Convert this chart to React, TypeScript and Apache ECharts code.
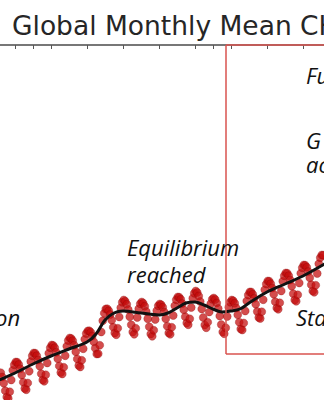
import React, { useEffect, useRef } from "react";
import * as echarts from "echarts";

// Monthly mean CH4 (ppb), starting January 1994
const monthlyStartYear = 1994;
const ch4Monthly = [
  // 1994
  1751.0, 1750.9, 1749.9, 1748.2, 1745.7, 1742.7, 1740.2, 1739.7, 1742.3, 1747.0, 1750.9, 1753.1,
  // 1995
  1754.2, 1754.1, 1753.2, 1751.5, 1749.0, 1746.1, 1743.6, 1743.1, 1745.8, 1750.5, 1754.4, 1756.7,
  // 1996
  1757.8, 1757.7, 1756.7, 1755.0, 1752.5, 1749.5, 1747.0, 1746.5, 1749.1, 1753.8, 1757.7, 1759.9,
  // 1997
  1761.0, 1760.8, 1759.9, 1758.1, 1755.5, 1752.6, 1750.0, 1749.4, 1752.1, 1756.7, 1760.5, 1762.8,
  // 1998
  1763.8, 1763.6, 1762.7, 1760.9, 1758.3, 1755.4, 1752.8, 1752.2, 1754.9, 1759.5, 1763.3, 1765.6,
  // 1999
  1766.6, 1766.7, 1766.1, 1764.6, 1762.3, 1759.7, 1757.4, 1757.5, 1760.9, 1766.2, 1770.7, 1773.7,
  // 2000
  1775.4, 1775.5, 1774.7, 1773.2, 1770.9, 1768.1, 1765.8, 1765.1, 1767.7, 1772.2, 1775.9, 1778.1,
  // 2001
  1779.0, 1778.5, 1777.3, 1775.2, 1772.3, 1769.1, 1766.2, 1765.3, 1767.7, 1772.0, 1775.5, 1777.5,
  // 2002
  1778.2, 1777.7, 1776.5, 1774.4, 1771.5, 1768.3, 1765.4, 1764.5, 1766.9, 1771.2, 1774.7, 1776.7,
  // 2003
  1777.4, 1777.1, 1776.1, 1774.2, 1771.5, 1768.5, 1765.8, 1765.3, 1768.1, 1772.8, 1776.7, 1779.1,
  // 2004
  1780.2, 1780.1, 1779.3, 1777.6, 1775.1, 1772.3, 1769.8, 1769.1, 1771.5, 1776.0, 1779.7, 1781.7,
  // 2005
  1782.6, 1782.0, 1780.6, 1778.4, 1775.4, 1772.0, 1769.0, 1767.9, 1770.1, 1774.2, 1777.5, 1779.3,
  // 2006
  1779.8, 1779.2, 1777.8, 1775.6, 1772.6, 1769.2, 1766.2, 1765.5, 1767.9, 1772.4, 1776.1, 1778.1,
  // 2007
  1779.0, 1778.7, 1777.7, 1775.8, 1773.1, 1770.1, 1767.4, 1767.0, 1769.8, 1774.6, 1778.6, 1781.0,
  // 2008
  1782.2, 1782.2, 1781.3, 1779.7, 1777.3, 1774.4, 1772.0, 1771.6, 1774.3, 1779.1, 1783.1, 1785.4,
  // 2009
  1786.6, 1786.5, 1785.5, 1783.8, 1781.3, 1778.3, 1775.8, 1775.3, 1777.9, 1782.6, 1786.5, 1788.7,
  // 2010
  1789.8, 1789.7, 1788.7, 1787.0, 1784.5, 1781.5, 1779.0, 1778.5, 1781.1, 1785.8, 1789.7, 1791.9,
  // 2011
  1793.0, 1792.9, 1792.1, 1790.4, 1787.9, 1785.1, 1782.6, 1782.1, 1784.9, 1789.6, 1793.5, 1795.9,
  // 2012
  1797.0, 1796.9, 1796.1, 1794.4,
];

// Deseasonalised trend (black curve)
const trendYears = [
  1994, 1995, 1996, 1997, 1998, 1999, 1999.5, 2000, 2000.5, 2001, 2002, 2003, 2003.5,
  2004, 2004.5, 2005, 2005.5, 2006, 2006.5, 2007, 2007.5, 2008, 2009, 2010, 2011, 2012, 2012.5,
];
const trendValues = [
  1746.6, 1749.8, 1753.4, 1756.6, 1759.4, 1762.2, 1765.4, 1771.0, 1773.8, 1774.6, 1773.8, 1773.0, 1773.8,
  1775.8, 1777.8, 1778.2, 1777.0, 1775.4, 1774.2, 1774.6, 1775.4, 1777.8, 1782.2, 1785.4, 1788.6, 1792.6, 1794.6,
];

// Visible year ticks on the top axis
const tickYears = [1995, 1996, 1997, 1999, 2001, 2003, 2005, 2006, 2007, 2009, 2011];

// Visible window
const xMin = 1994 + 1 / 6;
const xMax = 2012 + 1 / 6;
const yMin = 1739;
const yMax = 1881;

// Highlighted period box
const boxStartYear = 2006.72;
const boxBottomValue = 1757.4;

const titleText = "Global Monthly Mean CH₄";
const annotations = ["Fu", "G", "ac", "Equilibrium", "reached", "on", "Sta"];

export default function App() {
  const ref = useRef<HTMLDivElement>(null);

  useEffect(() => {
    document.body.style.margin = "0";
    if (!ref.current) return;
    const chart = echarts.init(ref.current, undefined, { renderer: "svg" });

    const dots = ch4Monthly.map((v, i) => [monthlyStartYear + (i + 0.5) / 12, v]);
    const trend = trendYears.map((y, i) => [y, trendValues[i]]);

    const textFont = "italic 22px 'Open Sans'";
    const mkText = (text: string, x: number, y: number) => ({
      type: "text",
      x,
      y,
      z: 10,
      style: {
        text,
        font: textFont,
        fill: "#111",
        lineHeight: 22,
        align: "left",
        verticalAlign: "middle",
        textAlign: "left",
        textVerticalAlign: "middle",
      },
    });

    const boxLine = { color: "#d9534f", width: 1.5, type: "solid" };

    chart.setOption({
      animation: false,
      backgroundColor: "#fff",
      grid: { left: 0, right: 0, top: 45, bottom: 0, containLabel: false },
      xAxis: {
        type: "value",
        position: "top",
        min: xMin,
        max: xMax,
        axisLine: { show: true, lineStyle: { color: "#4a4a4a", width: 1.5 } },
        axisTick: {
          show: true,
          inside: true,
          length: 4,
          customValues: tickYears,
          lineStyle: { color: "#555", width: 1 },
        },
        axisLabel: { show: false },
        splitLine: { show: false },
      },
      yAxis: {
        type: "value",
        min: yMin,
        max: yMax,
        show: false,
        splitLine: { show: false },
      },
      graphic: [
        {
          type: "text",
          x: 12,
          y: 25,
          z: 10,
          style: {
            text: titleText,
            font: "26.5px 'DejaVu Sans'",
            fill: "#262626",
            align: "left",
            verticalAlign: "middle",
            textAlign: "left",
            textVerticalAlign: "middle",
          },
        },
        mkText(annotations[0], 306, 75),
        mkText(annotations[1], 306, 140),
        mkText(annotations[2], 306, 164),
        mkText(annotations[3], 127, 247),
        mkText(annotations[4], 127, 274),
        mkText(annotations[5], -5, 317),
        mkText(annotations[6], 296, 317),
      ],
      series: [
        {
          type: "scatter",
          data: dots,
          symbol: "circle",
          symbolSize: 8,
          itemStyle: {
            color: "rgba(196,14,14,0.92)",
            borderColor: "rgba(130,0,0,0.6)",
            borderWidth: 0.6,
          },
          z: 2,
        },
        {
          type: "line",
          data: trend,
          smooth: 0.35,
          showSymbol: false,
          lineStyle: { color: "#111", width: 3 },
          z: 3,
          markLine: {
            silent: true,
            symbol: ["none", "none"],
            label: { show: false },
            lineStyle: boxLine,
            data: [
              [{ coord: [boxStartYear, yMax] }, { coord: [boxStartYear, boxBottomValue] }],
              [{ coord: [boxStartYear, boxBottomValue] }, { coord: [xMax, boxBottomValue] }],
              [{ coord: [boxStartYear, yMax] }, { coord: [xMax, yMax] }],
            ],
          },
        },
      ],
    });

    return () => chart.dispose();
  }, []);

  return (
    <div
      ref={ref}
      style={{ position: "fixed", left: 0, top: 0, width: 324, height: 400 }}
    />
  );
}
